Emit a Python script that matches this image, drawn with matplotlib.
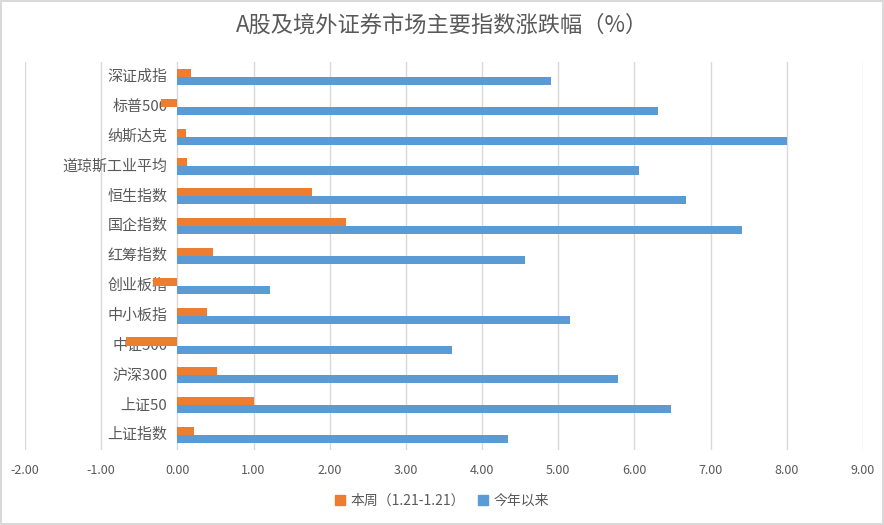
import matplotlib.pyplot as plt
import matplotlib.patches as mpatches
import numpy as np

plt.rcParams['font.family'] = ['Noto Sans CJK SC', 'DejaVu Sans']

# Categories, bottom to top as drawn
categories = [
    "上证指数", "上证50", "沪深300", "中证500", "中小板指", "创业板指",
    "红筹指数", "国企指数", "恒生指数", "道琼斯工业平均", "纳斯达克",
    "标普500", "深证成指"
]

# Weekly change (%) and year-to-date change (%)
week = [0.22, 1.01, 0.52, -0.67, 0.39, -0.32, 0.47, 2.22, 1.77, 0.13, 0.11, -0.21, 0.18]
ytd = [4.34, 6.48, 5.78, 3.61, 5.16, 1.21, 4.56, 7.41, 6.68, 6.06, 8.00, 6.31, 4.91]

xticks = [-2, -1, 0, 1, 2, 3, 4, 5, 6, 7, 8, 9]

orange = "#ED7D31"
blue = "#5B9BD5"
gray = "#595959"

fig = plt.figure(figsize=(8.84, 5.25), dpi=100)
fig.patch.set_edgecolor("#D9D9D9")
fig.patch.set_linewidth(1.5)
ax = fig.add_axes([25 / 884, 1 - 450 / 525, (863 - 25) / 884, (450 - 62) / 525])

y = np.arange(len(categories))
h = 0.27
ax.barh(y + h / 2, week, height=h, color=orange, zorder=3)
ax.barh(y - h / 2, ytd, height=h, color=blue, zorder=3)

ax.set_xlim(-2, 9)
ax.set_ylim(-0.5, len(categories) - 0.5)
ax.set_xticks(xticks)
ax.set_xticklabels(["%.2f" % v for v in xticks], fontsize=9, color=gray)
ax.tick_params(axis='x', length=0, pad=10)
ax.set_yticks([])
ax.grid(axis='x', color="#D9D9D9", linewidth=1, zorder=0)
for s in ax.spines.values():
    s.set_visible(False)

# Category labels sit next to the zero line, Excel-style
for yi, name in zip(y, categories):
    ax.text(-0.13, yi, name, ha='right', va='center', fontsize=10.8, color=gray, zorder=2)

fig.text(0.5, 1 - 25 / 525, "A股及境外证券市场主要指数涨跌幅（%）",
         ha='center', va='center', fontsize=16, color=gray)

handles = [mpatches.Patch(color=orange, label="本周（1.21-1.21）"),
           mpatches.Patch(color=blue, label="今年以来")]
leg = fig.legend(handles=handles, loc='center', bbox_to_anchor=(0.5, 1 - 501 / 525),
                 ncol=2, frameon=False, fontsize=10, handlelength=0.7, handleheight=0.7,
                 handletextpad=0.4, columnspacing=1.0)
for t in leg.get_texts():
    t.set_color(gray)

plt.savefig("out.png", dpi=100)
